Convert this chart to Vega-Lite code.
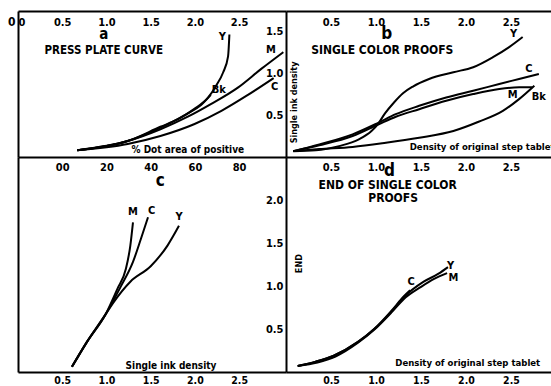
{
  "$schema": "https://vega.github.io/schema/vega-lite/v6.json",
  "padding": {"left": 7, "top": 11, "right": 0, "bottom": 0},
  "background": "white",
  "bounds": "flush",
  "spacing": 0,
  "columns": 2,
  "config": {
    "view": {"stroke": null},
    "axis": {"domainColor": "black", "domainWidth": 2, "ticks": false, "tickSize": 0, "grid": false, "labelColor": "black", "labelFont": "DejaVu Sans Condensed, Liberation Sans Narrow, Arial Narrow, DejaVu Sans, sans-serif", "labelFontWeight": "bold", "labelFontSize": 11},
    "text": {"font": "DejaVu Sans Condensed, Liberation Sans Narrow, Arial Narrow, DejaVu Sans, sans-serif", "fontWeight": "bold", "color": "black"},
    "line": {"color": "black", "strokeWidth": 2}
  },
  "datasets": {
    "a": [
      {"s": "Y", "x": 0.67, "y": 0.08}, {"s": "Y", "x": 1.24, "y": 0.19}, {"s": "Y", "x": 1.61, "y": 0.36}, {"s": "Y", "x": 1.81, "y": 0.45}, {"s": "Y", "x": 1.99, "y": 0.57}, {"s": "Y", "x": 2.15, "y": 0.71}, {"s": "Y", "x": 2.24, "y": 0.85}, {"s": "Y", "x": 2.32, "y": 1.01}, {"s": "Y", "x": 2.375, "y": 1.2}, {"s": "Y", "x": 2.39, "y": 1.46},
      {"s": "Bk", "x": 0.67, "y": 0.08}, {"s": "Bk", "x": 1.24, "y": 0.19}, {"s": "Bk", "x": 1.53, "y": 0.31}, {"s": "Bk", "x": 1.73, "y": 0.41}, {"s": "Bk", "x": 1.92, "y": 0.52}, {"s": "Bk", "x": 2.07, "y": 0.62}, {"s": "Bk", "x": 2.18, "y": 0.74},
      {"s": "M", "x": 0.67, "y": 0.08}, {"s": "M", "x": 1.24, "y": 0.19}, {"s": "M", "x": 1.61, "y": 0.33}, {"s": "M", "x": 1.92, "y": 0.48}, {"s": "M", "x": 2.18, "y": 0.63}, {"s": "M", "x": 2.49, "y": 0.83}, {"s": "M", "x": 2.75, "y": 1.05}, {"s": "M", "x": 3.0, "y": 1.25},
      {"s": "C", "x": 0.67, "y": 0.08}, {"s": "C", "x": 1.24, "y": 0.155}, {"s": "C", "x": 1.61, "y": 0.25}, {"s": "C", "x": 1.99, "y": 0.39}, {"s": "C", "x": 2.3, "y": 0.55}, {"s": "C", "x": 2.6, "y": 0.74}, {"s": "C", "x": 2.89, "y": 0.94}
    ],
    "b": [
      {"s": "Y", "x": 0.08, "y": 0.07}, {"s": "Y", "x": 0.33, "y": 0.08}, {"s": "Y", "x": 0.59, "y": 0.13}, {"s": "Y", "x": 0.81, "y": 0.21}, {"s": "Y", "x": 0.95, "y": 0.31}, {"s": "Y", "x": 1.02, "y": 0.39}, {"s": "Y", "x": 1.1, "y": 0.52}, {"s": "Y", "x": 1.2, "y": 0.65}, {"s": "Y", "x": 1.3, "y": 0.76}, {"s": "Y", "x": 1.41, "y": 0.84}, {"s": "Y", "x": 1.59, "y": 0.93}, {"s": "Y", "x": 1.86, "y": 1.01}, {"s": "Y", "x": 2.08, "y": 1.07}, {"s": "Y", "x": 2.3, "y": 1.19}, {"s": "Y", "x": 2.48, "y": 1.31}, {"s": "Y", "x": 2.63, "y": 1.43},
      {"s": "Bk", "x": 0.08, "y": 0.07}, {"s": "Bk", "x": 0.37, "y": 0.095}, {"s": "Bk", "x": 0.74, "y": 0.12}, {"s": "Bk", "x": 1.11, "y": 0.17}, {"s": "Bk", "x": 1.48, "y": 0.23}, {"s": "Bk", "x": 1.86, "y": 0.31}, {"s": "Bk", "x": 2.14, "y": 0.42}, {"s": "Bk", "x": 2.41, "y": 0.55}, {"s": "Bk", "x": 2.59, "y": 0.69}, {"s": "Bk", "x": 2.76, "y": 0.85},
      {"s": "C", "x": 0.08, "y": 0.07}, {"s": "C", "x": 0.37, "y": 0.15}, {"s": "C", "x": 0.74, "y": 0.27}, {"s": "C", "x": 1.03, "y": 0.41}, {"s": "C", "x": 1.22, "y": 0.51}, {"s": "C", "x": 1.48, "y": 0.61}, {"s": "C", "x": 1.78, "y": 0.71}, {"s": "C", "x": 2.08, "y": 0.79}, {"s": "C", "x": 2.37, "y": 0.87}, {"s": "C", "x": 2.59, "y": 0.93}, {"s": "C", "x": 2.81, "y": 0.99},
      {"s": "M", "x": 0.08, "y": 0.07}, {"s": "M", "x": 0.37, "y": 0.14}, {"s": "M", "x": 0.74, "y": 0.25}, {"s": "M", "x": 1.03, "y": 0.39}, {"s": "M", "x": 1.22, "y": 0.48}, {"s": "M", "x": 1.48, "y": 0.57}, {"s": "M", "x": 1.78, "y": 0.67}, {"s": "M", "x": 2.08, "y": 0.75}, {"s": "M", "x": 2.37, "y": 0.81}, {"s": "M", "x": 2.59, "y": 0.83}, {"s": "M", "x": 2.74, "y": 0.83}
    ],
    "c": [
      {"s": "M", "x": 0.61, "y": 0.06}, {"s": "M", "x": 0.78, "y": 0.35}, {"s": "M", "x": 0.99, "y": 0.67}, {"s": "M", "x": 1.125, "y": 0.97}, {"s": "M", "x": 1.22, "y": 1.2}, {"s": "M", "x": 1.27, "y": 1.47}, {"s": "M", "x": 1.3, "y": 1.74},
      {"s": "C", "x": 0.61, "y": 0.06}, {"s": "C", "x": 0.78, "y": 0.35}, {"s": "C", "x": 0.99, "y": 0.67}, {"s": "C", "x": 1.16, "y": 0.99}, {"s": "C", "x": 1.3, "y": 1.28}, {"s": "C", "x": 1.39, "y": 1.55}, {"s": "C", "x": 1.47, "y": 1.8},
      {"s": "Y", "x": 0.61, "y": 0.06}, {"s": "Y", "x": 0.78, "y": 0.35}, {"s": "Y", "x": 0.99, "y": 0.67}, {"s": "Y", "x": 1.08, "y": 0.81}, {"s": "Y", "x": 1.27, "y": 1.05}, {"s": "Y", "x": 1.5, "y": 1.23}, {"s": "Y", "x": 1.69, "y": 1.47}, {"s": "Y", "x": 1.82, "y": 1.7}
    ],
    "d": [
      {"s": "C", "x": 0.13, "y": 0.07}, {"s": "C", "x": 0.33, "y": 0.12}, {"s": "C", "x": 0.53, "y": 0.19}, {"s": "C", "x": 0.8, "y": 0.35}, {"s": "C", "x": 0.98, "y": 0.5}, {"s": "C", "x": 1.17, "y": 0.71}, {"s": "C", "x": 1.31, "y": 0.88}, {"s": "C", "x": 1.38, "y": 0.95},
      {"s": "Y", "x": 0.13, "y": 0.07}, {"s": "Y", "x": 0.33, "y": 0.12}, {"s": "Y", "x": 0.53, "y": 0.19}, {"s": "Y", "x": 0.8, "y": 0.35}, {"s": "Y", "x": 0.98, "y": 0.5}, {"s": "Y", "x": 1.17, "y": 0.7}, {"s": "Y", "x": 1.31, "y": 0.87}, {"s": "Y", "x": 1.53, "y": 1.05}, {"s": "Y", "x": 1.69, "y": 1.14}, {"s": "Y", "x": 1.8, "y": 1.22},
      {"s": "M", "x": 0.13, "y": 0.07}, {"s": "M", "x": 0.35, "y": 0.11}, {"s": "M", "x": 0.55, "y": 0.18}, {"s": "M", "x": 0.8, "y": 0.34}, {"s": "M", "x": 0.98, "y": 0.49}, {"s": "M", "x": 1.17, "y": 0.69}, {"s": "M", "x": 1.31, "y": 0.85}, {"s": "M", "x": 1.5, "y": 0.99}, {"s": "M", "x": 1.64, "y": 1.08}, {"s": "M", "x": 1.79, "y": 1.15}
    ]
  },
  "concat": [
    {
      "width": 268,
      "height": 146,
      "layer": [
        {
          "data": {"name": "a"},
          "mark": {"type": "line", "interpolate": "monotone"},
          "encoding": {
            "x": {"field": "x", "type": "quantitative", "title": null, "scale": {"domain": [0, 3.03], "nice": false, "zero": false}, "axis": {"orient": "top", "values": [0, 0.5, 1, 1.5, 2, 2.5], "labelExpr": "datum.value == 0 ? '0' : format(datum.value, '.1f')", "labelPadding": -11, "labelBaseline": "middle", "labelFlush": true}},
            "y": {"field": "y", "type": "quantitative", "title": null, "scale": {"domain": [0, 1.74], "nice": false, "zero": false}, "axis": {"values": [1.61], "labelExpr": "'0'", "labelPadding": 3, "labelFontSize": 12}},
            "detail": {"field": "s"}
          }
        },
        {
          "data": {"values": [{"x": 2.31, "y": 1.43, "t": "Y"}, {"x": 2.27, "y": 0.8, "t": "Bk"}, {"x": 2.86, "y": 1.27, "t": "M"}, {"x": 2.9, "y": 0.83, "t": "C"}]},
          "mark": {"type": "text", "fontSize": 11},
          "encoding": {
            "x": {"field": "x", "type": "quantitative", "title": null, "axis": {"orient": "bottom", "values": [0.5, 1, 1.5, 2, 2.5], "labelExpr": "['00','20','40','60','80'][round(datum.value*2)-1]", "labelPadding": 4, "labelBaseline": "top"}},
            "y": {"field": "y", "type": "quantitative", "axis": null},
            "text": {"field": "t"}
          }
        },
        {
          "data": {"values": [{"x": 0.97, "y": 1.46, "t": "a"}]},
          "mark": {"type": "text", "fontSize": 15},
          "encoding": {"x": {"field": "x", "type": "quantitative", "axis": null}, "y": {"field": "y", "type": "quantitative", "axis": null}, "text": {"field": "t"}}
        },
        {
          "data": {"values": [{"x": 0.97, "y": 1.26, "t": "PRESS PLATE CURVE"}]},
          "mark": {"type": "text", "fontSize": 11.5},
          "encoding": {"x": {"field": "x", "type": "quantitative", "axis": null}, "y": {"field": "y", "type": "quantitative", "axis": null}, "text": {"field": "t"}}
        },
        {
          "data": {"values": [{"x": 1.92, "y": 0.08, "t": "% Dot area of positive"}]},
          "mark": {"type": "text", "fontSize": 10},
          "encoding": {"x": {"field": "x", "type": "quantitative", "axis": null}, "y": {"field": "y", "type": "quantitative", "axis": null}, "text": {"field": "t"}}
        }
      ],
      "resolve": {"axis": {"x": "independent", "y": "independent"}}
    },
    {
      "width": 266,
      "height": 146,
      "layer": [
        {
          "data": {"name": "b"},
          "mark": {"type": "line", "interpolate": "monotone"},
          "encoding": {
            "x": {"field": "x", "type": "quantitative", "title": null, "scale": {"domain": [0, 2.956], "nice": false, "zero": false}, "axis": {"orient": "top", "values": [0.5, 1, 1.5, 2, 2.5], "format": ".1f", "labelPadding": -11, "labelBaseline": "middle"}},
            "y": {"field": "y", "type": "quantitative", "title": null, "scale": {"domain": [0, 1.74], "nice": false, "zero": false}, "axis": {"values": [0.5, 1, 1.5], "format": ".1f", "labelPadding": 3}},
            "detail": {"field": "s"}
          }
        },
        {
          "data": {"values": [{"x": 2.53, "y": 1.46, "t": "Y"}, {"x": 2.7, "y": 1.05, "t": "C"}, {"x": 2.52, "y": 0.74, "t": "M"}, {"x": 2.81, "y": 0.71, "t": "Bk"}]},
          "mark": {"type": "text", "fontSize": 11},
          "encoding": {
            "x": {"field": "x", "type": "quantitative", "title": null, "axis": {"orient": "bottom", "values": [0.5, 1, 1.5, 2, 2.5], "format": ".1f", "labelPadding": 4, "labelBaseline": "top"}},
            "y": {"field": "y", "type": "quantitative", "axis": null},
            "text": {"field": "t"}
          }
        },
        {
          "data": {"values": [{"x": 1.12, "y": 1.46, "t": "b"}]},
          "mark": {"type": "text", "fontSize": 17},
          "encoding": {"x": {"field": "x", "type": "quantitative", "axis": null}, "y": {"field": "y", "type": "quantitative", "axis": null}, "text": {"field": "t"}}
        },
        {
          "data": {"values": [{"x": 1.07, "y": 1.28, "t": "SINGLE COLOR PROOFS"}]},
          "mark": {"type": "text", "fontSize": 12},
          "encoding": {"x": {"field": "x", "type": "quantitative", "axis": null}, "y": {"field": "y", "type": "quantitative", "axis": null}, "text": {"field": "t"}}
        },
        {
          "data": {"values": [{"x": 2.18, "y": 0.12, "t": "Density of original step tablet"}]},
          "mark": {"type": "text", "fontSize": 9.5},
          "encoding": {"x": {"field": "x", "type": "quantitative", "axis": null}, "y": {"field": "y", "type": "quantitative", "axis": null}, "text": {"field": "t"}}
        },
        {
          "data": {"values": [{"x": 0.09, "y": 0.65, "t": "Single ink density"}]},
          "mark": {"type": "text", "fontSize": 9, "angle": 270},
          "encoding": {"x": {"field": "x", "type": "quantitative", "axis": null}, "y": {"field": "y", "type": "quantitative", "axis": null}, "text": {"field": "t"}}
        }
      ],
      "resolve": {"axis": {"x": "independent", "y": "independent"}}
    },
    {
      "width": 268,
      "height": 215,
      "layer": [
        {
          "data": {"name": "c"},
          "mark": {"type": "line", "interpolate": "monotone"},
          "encoding": {
            "x": {"field": "x", "type": "quantitative", "title": null, "scale": {"domain": [0, 3.03], "nice": false, "zero": false}, "axis": {"orient": "bottom", "values": [0.5, 1, 1.5, 2, 2.5], "format": ".1f", "labelPadding": 3, "labelBaseline": "top", "labelFontSize": 10.5}},
            "y": {"field": "y", "type": "quantitative", "title": null, "scale": {"domain": [0, 2.5], "nice": false, "zero": false}, "axis": {"labels": false}},
            "detail": {"field": "s"}
          }
        },
        {
          "data": {"values": [{"x": 1.3, "y": 1.86, "t": "M"}, {"x": 1.51, "y": 1.87, "t": "C"}, {"x": 1.82, "y": 1.8, "t": "Y"}]},
          "mark": {"type": "text", "fontSize": 11},
          "encoding": {"x": {"field": "x", "type": "quantitative", "axis": null}, "y": {"field": "y", "type": "quantitative", "axis": null}, "text": {"field": "t"}}
        },
        {
          "data": {"values": [{"x": 1.61, "y": 2.22, "t": "c"}]},
          "mark": {"type": "text", "fontSize": 17},
          "encoding": {"x": {"field": "x", "type": "quantitative", "axis": null}, "y": {"field": "y", "type": "quantitative", "axis": null}, "text": {"field": "t"}}
        },
        {
          "data": {"values": [{"x": 1.73, "y": 0.07, "t": "Single ink density"}]},
          "mark": {"type": "text", "fontSize": 10},
          "encoding": {"x": {"field": "x", "type": "quantitative", "axis": null}, "y": {"field": "y", "type": "quantitative", "axis": null}, "text": {"field": "t"}}
        }
      ],
      "resolve": {"axis": {"x": "independent", "y": "independent"}}
    },
    {
      "width": 266,
      "height": 215,
      "layer": [
        {
          "data": {"name": "d"},
          "mark": {"type": "line", "interpolate": "monotone"},
          "encoding": {
            "x": {"field": "x", "type": "quantitative", "title": null, "scale": {"domain": [0, 2.956], "nice": false, "zero": false}, "axis": {"orient": "bottom", "values": [0.5, 1, 1.5, 2, 2.5], "format": ".1f", "labelPadding": 3, "labelBaseline": "top", "labelFontSize": 10.5}},
            "y": {"field": "y", "type": "quantitative", "title": null, "scale": {"domain": [0, 2.5], "nice": false, "zero": false}, "axis": {"values": [0.5, 1, 1.5, 2], "format": ".1f", "labelPadding": 3}},
            "detail": {"field": "s"}
          }
        },
        {
          "data": {"values": [{"x": 1.39, "y": 1.05, "t": "C"}, {"x": 1.83, "y": 1.23, "t": "Y"}, {"x": 1.86, "y": 1.09, "t": "M"}]},
          "mark": {"type": "text", "fontSize": 11},
          "encoding": {"x": {"field": "x", "type": "quantitative", "axis": null}, "y": {"field": "y", "type": "quantitative", "axis": null}, "text": {"field": "t"}}
        },
        {
          "data": {"values": [{"x": 1.15, "y": 2.34, "t": "d"}]},
          "mark": {"type": "text", "fontSize": 17},
          "encoding": {"x": {"field": "x", "type": "quantitative", "axis": null}, "y": {"field": "y", "type": "quantitative", "axis": null}, "text": {"field": "t"}}
        },
        {
          "data": {"values": [{"x": 1.13, "y": 2.18, "t": "END OF SINGLE COLOR"}, {"x": 1.19, "y": 2.02, "t": "PROOFS"}]},
          "mark": {"type": "text", "fontSize": 12},
          "encoding": {"x": {"field": "x", "type": "quantitative", "axis": null}, "y": {"field": "y", "type": "quantitative", "axis": null}, "text": {"field": "t"}}
        },
        {
          "data": {"values": [{"x": 2.02, "y": 0.1, "t": "Density of original step tablet"}]},
          "mark": {"type": "text", "fontSize": 9.5},
          "encoding": {"x": {"field": "x", "type": "quantitative", "axis": null}, "y": {"field": "y", "type": "quantitative", "axis": null}, "text": {"field": "t"}}
        },
        {
          "data": {"values": [{"x": 0.14, "y": 1.26, "t": "END"}]},
          "mark": {"type": "text", "fontSize": 9, "angle": 270},
          "encoding": {"x": {"field": "x", "type": "quantitative", "axis": null}, "y": {"field": "y", "type": "quantitative", "axis": null}, "text": {"field": "t"}}
        }
      ],
      "resolve": {"axis": {"x": "independent", "y": "independent"}}
    }
  ]
}
